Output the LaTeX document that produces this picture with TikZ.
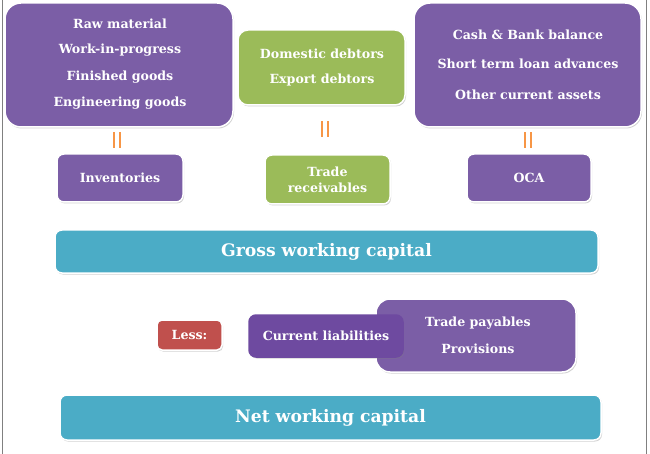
\documentclass[tikz,border=0pt]{standalone}
\usepackage{fontspec}
\setmainfont{DejaVu Serif}
\usetikzlibrary{shadows}
\definecolor{cpurple}{HTML}{7B5EA6}
\definecolor{cpurpledark}{HTML}{6E4AA0}
\definecolor{cgreen}{HTML}{9BBB59}
\definecolor{cteal}{HTML}{4BACC6}
\definecolor{cred}{HTML}{C0504D}
\definecolor{corange}{HTML}{F79646}
\definecolor{cframe}{HTML}{808080}
\tikzset{
  box/.style={draw=white, line width=1.5pt, rounded corners=#1, drop shadow={opacity=0.35, shadow xshift=1pt, shadow yshift=-1.5pt}},
  box/.default=14pt,
  txt/.style={text=white, font=\bfseries\fontsize{12.6}{14}\selectfont, inner sep=0pt, anchor=center},
  bigtxt/.style={text=white, font=\bfseries\fontsize{17.2}{19}\selectfont, inner sep=0pt, anchor=center},
  eqbar/.style={draw=corange, line width=2.4pt},
}
\begin{document}
\begin{tikzpicture}[x=1pt,y=-1pt]
\useasboundingbox (0,0) rectangle (650,454);
\fill[white] (0,0) rectangle (650,454);
\draw[cframe, line width=1pt] (2,0) -- (2,454);
\draw[cframe, line width=1pt] (646,0) -- (646,454);
% top boxes
\node[box=16pt, fill=cpurple, minimum width=228pt, minimum height=124pt] (raw) at (119,65) {};
\node[txt] (t1) at (120,24) {Raw material};
\node[txt] (t2) at (120,50) {Work-in-progress};
\node[txt] (t3) at (120,77) {Finished goods};
\node[txt] (t4) at (120,103) {Engineering goods};
\node[box=10pt, fill=cgreen, minimum width=167pt, minimum height=75pt] (deb) at (321.5,67.5) {};
\node[txt] (d1) at (322,54) {Domestic debtors};
\node[txt] (d2) at (322,80) {Export debtors};
\node[box=16pt, fill=cpurple, minimum width=227pt, minimum height=124pt] (cash) at (527.5,65) {};
\node[txt] (c1) at (528,35) {Cash \& Bank balance};
\node[txt] (c2) at (528,64) {Short term loan advances};
\node[txt] (c3) at (528,95) {Other current assets};
% equals
\coordinate (e1) at (117,140);
\coordinate (e2) at (325,129);
\coordinate (e3) at (528,140);
\foreach \e in {e1,e2,e3}{
  \draw[eqbar] ([xshift=-3pt,yshift=-8pt]\e) -- ([xshift=-3pt,yshift=8pt]\e);
  \draw[eqbar] ([xshift=3pt,yshift=-8pt]\e) -- ([xshift=3pt,yshift=8pt]\e);
}
% middle boxes
\node[box=7pt, fill=cpurple, minimum width=126pt, minimum height=48pt] (inv) at (120,178) {};
\node[txt] at (inv) {Inventories};
\node[box=7pt, fill=cgreen, minimum width=125pt, minimum height=49pt] (tr) at (327.5,179.5) {};
\node[txt, align=center, font=\bfseries\fontsize{12.6}{16}\selectfont] at (tr) {Trade\\receivables};
\node[box=7pt, fill=cpurple, minimum width=124pt, minimum height=48pt] (oca) at (529,178) {};
\node[txt] at (oca) {OCA};
% gross
\node[box=7pt, fill=cteal, minimum width=543pt, minimum height=43pt] (gross) at (326.5,251.5) {};
\node[bigtxt] at (gross) {Gross working capital};
% liabilities
\node[box=5pt, fill=cred, minimum width=65pt, minimum height=30pt] (less) at (189.5,335) {};
\node[txt] at (less) {Less:};
\node[box=14pt, fill=cpurple, minimum width=200pt, minimum height=73pt] (pay) at (476,335.5) {};
\node[txt] at (478,323) {Trade payables};
\node[txt] at (478,349) {Provisions};
\node[box=7pt, fill=cpurpledark, draw=cpurpledark, minimum width=154pt, minimum height=42pt] (cl) at (326,336) {};
\node[txt] at (cl) {Current liabilities};
% net
\node[box=7pt, fill=cteal, minimum width=541pt, minimum height=45pt] (net) at (330.5,417.5) {};
\node[bigtxt] at (net) {Net working capital};
\end{tikzpicture}
\end{document}
